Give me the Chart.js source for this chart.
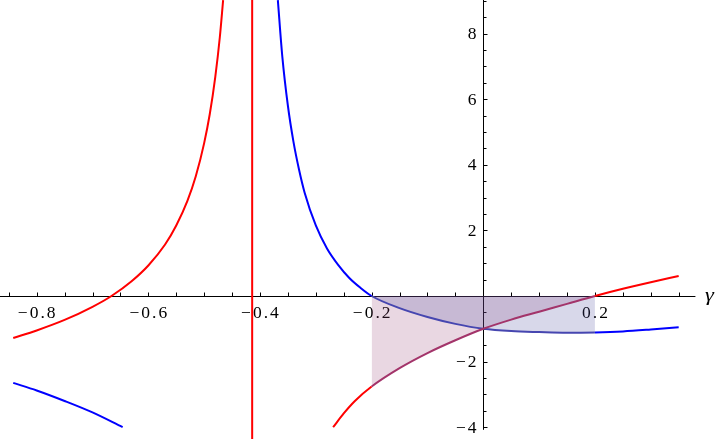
<!DOCTYPE html>
<html><head><meta charset="utf-8">
<script src="https://cdn.jsdelivr.net/npm/chart.js@4/dist/chart.umd.min.js"></script>
<style>html,body{margin:0;padding:0;background:#fff;overflow:hidden}canvas{display:block}</style>
</head><body>
<canvas id="c" width="720" height="439"></canvas>
<script>
// ---- data ----
const redLeftX  = [-0.842, -0.8, -0.75, -0.7, -0.666, -0.63, -0.6, -0.57, -0.55, -0.53, -0.515, -0.5, -0.49, -0.48, -0.472, -0.466];
const redLeftY  = [-1.28, -1.05, -0.73, -0.33, 0, 0.45, 0.93, 1.57, 2.15, 2.9, 3.65, 4.66, 5.54, 6.69, 7.88, 9.02];
const redRightX = [-0.269, -0.25, -0.23, -0.2, -0.15, -0.1, -0.05, 0, 0.05, 0.1, 0.15, 0.2, 0.25, 0.3, 0.35];
const redRightY = [-4.0, -3.58, -3.2, -2.76, -2.2, -1.74, -1.35, -1.0, -0.72, -0.48, -0.24, 0, 0.22, 0.42, 0.61];
const blueLeftX = [-0.842, -0.8, -0.75, -0.7, -0.646];
const blueLeftY = [-2.65, -2.88, -3.2, -3.55, -4.0];
const blueRightX = [-0.368, -0.36, -0.35, -0.34, -0.33, -0.32, -0.30, -0.28, -0.26, -0.24, -0.22, -0.2, -0.15, -0.1, -0.05, 0, 0.05, 0.1, 0.15, 0.2, 0.25, 0.3, 0.35];
const blueRightY = [9.02, 7.3, 5.8, 4.7, 3.85, 3.15, 2.15, 1.45, 0.95, 0.55, 0.25, 0, -0.37, -0.64, -0.85, -1.0, -1.07, -1.1, -1.12, -1.11, -1.08, -1.02, -0.95];
const asymptoteX = -0.414;
const fillFrom = -0.2, fillTo = 0.2;

const xTickValues = [-0.8, -0.6, -0.4, -0.2, 0.2];
const xTickLabels = ['\u22120.8', '\u22120.6', '\u22120.4', '\u22120.2', '0.2'];
const yTickValues = [-4, -2, 2, 4, 6, 8];
const yTickLabels = ['\u22124', '\u22122', '2', '4', '6', '8'];
const axisLabel = '\u03B3';

// ---- view ----
const X_MIN = -0.8657, X_MAX = 0.424, Y_MIN = -4.36, Y_MAX = 9.024;
const X_AXIS_END = 0.38, Y_AXIS_BOTTOM = -4.08;
const FONT = '17.5px "Liberation Serif", "DejaVu Serif", serif';
const FONT_IT = 'italic 18px "Liberation Serif", "DejaVu Serif", serif';
const SPACING = 2;

const pts = (xs, ys) => xs.map((x, i) => ({x, y: ys[i]}));
const inFill = (xs, ys) => pts(xs, ys).filter(p => p.x >= fillFrom - 1e-9 && p.x <= fillTo + 1e-9);

const RED = '#ff0000', BLUE = '#0000ff';
const RED_IN = '#a3346a', BLUE_IN = '#4646b0';
const seg = (base, inside) => ({
  borderColor: ctx => (ctx.p0.parsed.x >= fillFrom - 1e-9 && ctx.p1.parsed.x <= fillTo + 1e-9) ? inside : base
});

const lineDs = (data, color, inside) => ({
  data, borderColor: color, borderWidth: 2, pointRadius: 0, fill: false,
  cubicInterpolationMode: 'monotone', segment: inside ? seg(color, inside) : undefined
});

const axesPlugin = {
  id: 'mmaAxes',
  beforeDatasetsDraw(chart) {
    const {ctx, scales: {x, y}} = chart;
    const x0 = Math.round(x.getPixelForValue(0)) + 0.5;
    const y0 = Math.round(y.getPixelForValue(0)) + 0.5;
    ctx.save();
    ctx.strokeStyle = '#000';
    ctx.lineWidth = 1;
    ctx.beginPath();
    ctx.moveTo(x.getPixelForValue(X_MIN), y0);
    ctx.lineTo(x.getPixelForValue(X_AXIS_END), y0);
    ctx.moveTo(x0, y.getPixelForValue(Y_MAX));
    ctx.lineTo(x0, y.getPixelForValue(Y_AXIS_BOTTOM));
    for (let i = -17; i <= 7; i++) {
      if (i === 0) continue;
      const px = Math.round(x.getPixelForValue(i * 0.05)) + 0.5;
      ctx.moveTo(px, y0);
      ctx.lineTo(px, y0 - 4);
    }
    for (let j = -8; j <= 18; j++) {
      if (j === 0) continue;
      const py = Math.round(y.getPixelForValue(j * 0.5)) + 0.5;
      const len = (j % 4 === 0) ? 4 : 3;
      ctx.moveTo(x0, py);
      ctx.lineTo(x0 + len, py);
    }
    ctx.stroke();

    ctx.fillStyle = '#000';
    ctx.font = FONT;
    let sp = 0;
    try { ctx.letterSpacing = SPACING + 'px'; sp = SPACING; } catch (e) {}
    ctx.textAlign = 'center';
    ctx.textBaseline = 'alphabetic';
    xTickValues.forEach((v, i) => {
      ctx.fillText(xTickLabels[i], x.getPixelForValue(v) + sp / 2, y0 + 21.5);
    });
    ctx.textAlign = 'right';
    ctx.textBaseline = 'middle';
    yTickValues.forEach((v, i) => {
      ctx.fillText(yTickLabels[i], x0 - 7 + sp, y.getPixelForValue(v) + 1);
    });
    try { ctx.letterSpacing = '0px'; } catch (e) {}
    ctx.font = FONT_IT;
    ctx.textAlign = 'left';
    ctx.textBaseline = 'alphabetic';
    ctx.translate(705, y0 + 4);
    ctx.scale(1.25, 1);
    ctx.fillText(axisLabel, 0, 0);
    ctx.restore();
  }
};

new Chart(document.getElementById('c'), {
  type: 'line',
  data: {
    datasets: [
      lineDs([{x: asymptoteX, y: Y_MAX}, {x: asymptoteX, y: Y_MIN}], RED),
      lineDs(pts(redLeftX, redLeftY), RED),
      lineDs(pts(redRightX, redRightY), RED, RED_IN),
      lineDs(pts(blueLeftX, blueLeftY), BLUE),
      lineDs(pts(blueRightX, blueRightY), BLUE, BLUE_IN),
      {data: inFill(blueRightX, blueRightY), borderWidth: 0, pointRadius: 0,
       cubicInterpolationMode: 'monotone', fill: {value: 0}, backgroundColor: 'rgba(77,77,159,0.22)'},
      {data: inFill(redRightX, redRightY), borderWidth: 0, pointRadius: 0,
       cubicInterpolationMode: 'monotone', fill: {value: 0}, backgroundColor: 'rgba(145,55,110,0.2)'}
    ]
  },
  options: {
    responsive: false, animation: false, events: [],
    layout: {padding: 0},
    plugins: {legend: {display: false}, tooltip: {enabled: false}},
    scales: {
      x: {type: 'linear', min: X_MIN, max: X_MAX, display: false},
      y: {type: 'linear', min: Y_MIN, max: Y_MAX, display: false}
    }
  },
  plugins: [axesPlugin]
});
</script>
</body></html>
